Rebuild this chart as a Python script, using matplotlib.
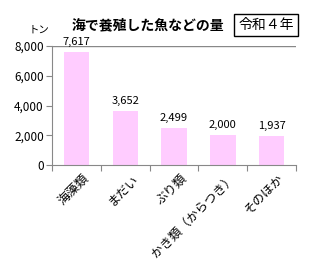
import matplotlib.pyplot as plt
import numpy as np

plt.rcParams['font.family'] = ['Noto Sans CJK JP', 'DejaVu Sans']

categories = ["海藻類", "まだい", "ぶり類", "かき類（からつき）", "そのほか"]
values = [7617, 3652, 2499, 2000, 1937]
yticks = [0, 2000, 4000, 6000, 8000]

fig = plt.figure(figsize=(3.12, 2.65), dpi=100)
ax = fig.add_axes([0.167, 0.377, 0.782, 0.449])

x = np.arange(len(categories))
ax.bar(x, values, width=0.52, color="#FFCCFF", zorder=2)
for xi, v in zip(x, values):
    ax.text(xi, v + 330, f"{v:,}", ha="center", va="bottom", fontsize=8)

ax.set_xlim(-0.5, len(categories) - 0.5)
ax.set_ylim(0, 8000)
ax.set_yticks(yticks)
ax.set_yticklabels([f"{t:,}" for t in yticks], fontsize=8.5)
ax.axhline(8000, color="#888888", lw=1, zorder=1)

# category ticks sit between bars
ax.set_xticks(np.arange(-0.5, len(categories) + 0.5, 1))
ax.set_xticklabels([])
ax.tick_params(axis="x", length=4, color="#888888")
ax.tick_params(axis="y", length=4, color="#888888", pad=2)
for xi, lab in zip(x, categories):
    ax.text(xi + 0.12, -450, lab, rotation=45, ha="right", va="top",
            rotation_mode="anchor", fontsize=9)

for side in ["top", "right"]:
    ax.spines[side].set_visible(False)
for side in ["left", "bottom"]:
    ax.spines[side].set_color("#888888")

fig.text(0.475, 0.905, "海で養殖した魚などの量", ha="center", va="center",
         fontsize=10, fontweight="bold")
fig.text(0.852, 0.905, "令和４年", ha="center", va="center", fontsize=10,
         bbox=dict(boxstyle="square,pad=0.3", fc="white", ec="black", lw=1))
fig.text(0.125, 0.89, "トン", ha="center", va="center", fontsize=7.5)

fig.savefig("out.png", dpi=100)
